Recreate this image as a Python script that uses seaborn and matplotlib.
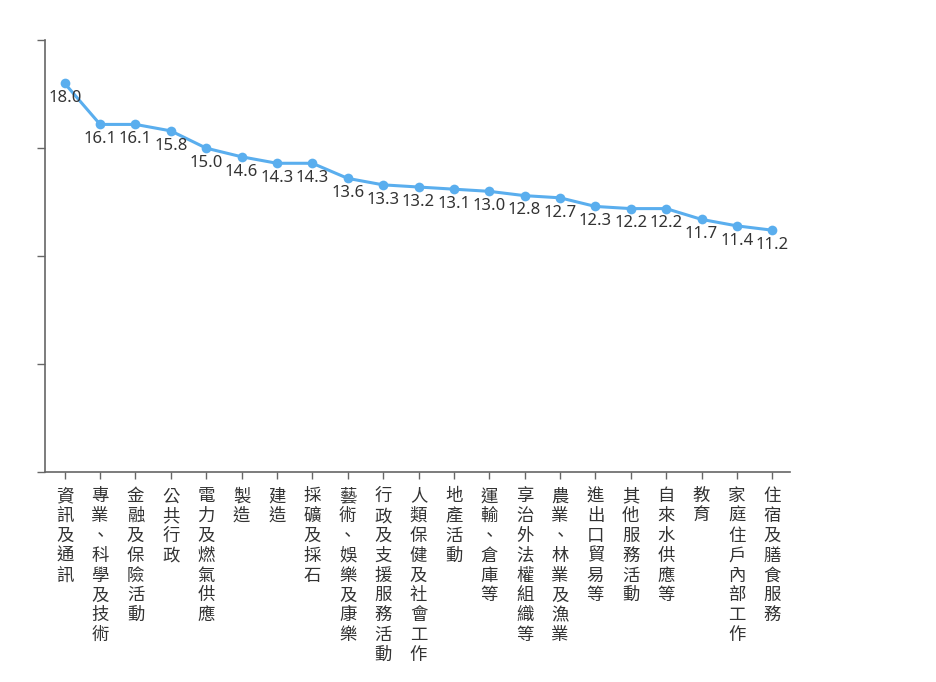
import seaborn as sns
import matplotlib.pyplot as plt
import pandas as pd

industries = ['資訊及通訊', '專業、科學及技術', '金融及保險活動', '公共行政', '電力及燃氣供應',
              '製造', '建造', '採礦及採石', '藝術、娛樂及康樂', '行政及支援服務活動',
              '人類保健及社會工作', '地產活動', '運輸、倉庫等', '享治外法權組織等', '農業、林業及漁業',
              '進出口貿易等', '其他服務活動', '自來水供應等', '教育', '家庭住戶內部工作', '住宿及膳食服務']
values = [18.0, 16.1, 16.1, 15.8, 15.0, 14.6, 14.3, 14.3, 13.6, 13.3, 13.2,
          13.1, 13.0, 12.8, 12.7, 12.3, 12.2, 12.2, 11.7, 11.4, 11.2]
y_ticks = [0, 5, 10, 15, 20]

sns.set_style('white')
plt.rcParams['font.family'] = ['Noto Sans CJK TC', 'DejaVu Sans']

df = pd.DataFrame({'idx': range(len(industries)), 'industry': industries, 'value': values})

fig = plt.figure(figsize=(9.36, 6.82), dpi=100)
ax = fig.add_axes([0.048, 0.308, 0.796, 0.633])

line_color = '#5aaeee'
sns.lineplot(data=df, x='idx', y='value', ax=ax, color=line_color, linewidth=2.2,
             marker='o', markersize=7, markeredgewidth=0, sort=False)

# value labels just under each point
for i, v in zip(df['idx'], df['value']):
    ax.annotate(f'{v:.1f}', (i, v), xytext=(0, -13.5), textcoords='offset points',
                ha='center', va='baseline', fontsize=12, color='#333333',
                family=['Noto Sans', 'DejaVu Sans'])

ax.set_xlim(-0.56, 20.5)
ax.set_ylim(0, 20)
ax.set_yticks(y_ticks)
ax.set_yticklabels([])
ax.set_xticks(df['idx'])
ax.set_xticklabels(['\n'.join(name) for name in industries], fontsize=12.5,
                   color='#333333', va='top', linespacing=1.13)
ax.set_xlabel('')
ax.set_ylabel('')

sns.despine(ax=ax)
for s in ['left', 'bottom']:
    ax.spines[s].set_color('#666666')
    ax.spines[s].set_linewidth(1.2)
ax.tick_params(axis='both', bottom=True, left=True, direction='out', length=5,
               width=1, color='#666666')
ax.tick_params(axis='x', pad=6)
ax.tick_params(axis='y', length=6)

fig.savefig('out.png', dpi=100)
